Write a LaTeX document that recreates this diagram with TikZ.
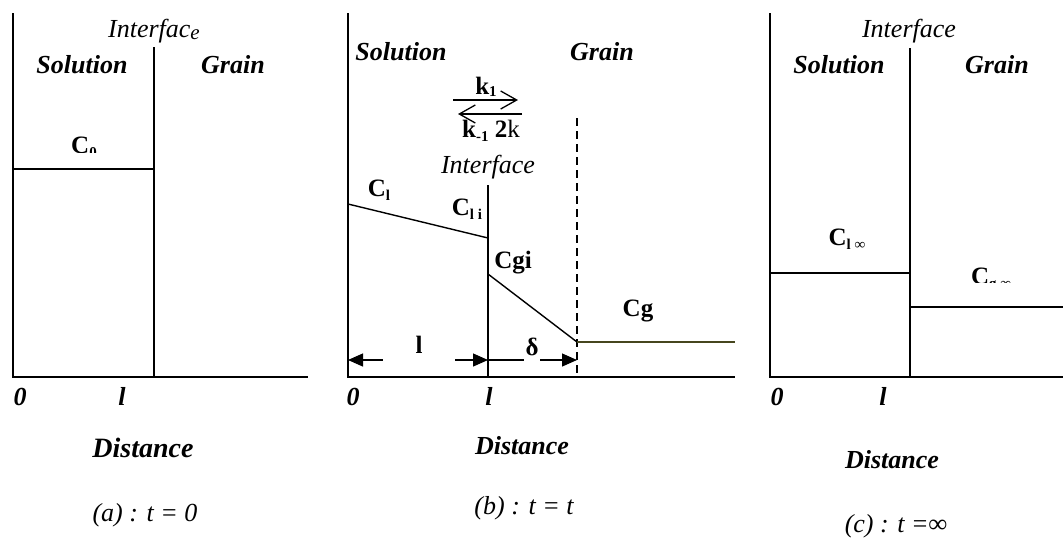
\documentclass[tikz,border=0pt]{standalone}
\usepackage{fontspec}
\setmainfont{Liberation Serif}
\usetikzlibrary{arrows.meta}
\newcommand\lowsub[1]{\raisebox{-4pt}{\fontsize{15}{15}\selectfont #1}}
\definecolor{olivedark}{RGB}{70,70,30}

\begin{document}
\begin{tikzpicture}[x=1pt, y=-1pt, >={Triangle[length=15pt,width=13pt]},
  axis/.style={line width=1.7pt},
  conc/.style={line width=1.4pt},
  bi/.style={font=\fontsize{26}{26}\selectfont\bfseries\itshape, anchor=base, inner sep=0pt},
  it/.style={font=\fontsize{26}{26}\selectfont\itshape, anchor=base, inner sep=0pt},
  bf/.style={font=\fontsize{25}{25}\selectfont\bfseries, anchor=base, inner sep=0pt},
  react/.style={line width=1.3pt, -{Straight Barb[length=16pt,width=18pt,line width=1.3pt]}}]
\useasboundingbox (0,0) rectangle (1063,539);

% axes of the three panels
\foreach \nm/\ox/\ex in {a/13/308, b/348/735, c/770/1063} {
  \coordinate (top\nm) at (\ox,13);
  \coordinate (org\nm) at (\ox,377);
  \coordinate (end\nm) at (\ex,377);
  \draw[axis] (top\nm) -- (org\nm) -- (end\nm);
}

% (a) t = 0
\coordinate (ifa) at (154,47); \coordinate (ifa0) at (154,377);
\coordinate (c0l) at (13,169); \coordinate (c0r) at (154,169);
\draw[axis] (ifa) -- (ifa0);
\draw[conc] (c0l) -- (c0r);
\node[it] (intfa) at (154,37) {Interfac\raisebox{-2pt}{\fontsize{21}{21}\selectfont e}};
\node[bi] (sola) at (82,73) {Solution};
\node[bi] (graina) at (233,73) {Grain};
\begin{scope}
\clip (60,120) rectangle (110,152);
\node[bf] (czero) at (84,153) {C\lowsub{0}};
\end{scope}
\node[bi] (zeroa) at (20,405) {0};
\node[bi] (ella) at (122,405) {l};
\node[bi] (dista) at (143,457) {\fontsize{28}{28}\selectfont Distance};
\node[it] (capa) at (145,521) {(a) : t = 0};

% (b) t = t
\coordinate (ifb) at (488,185); \coordinate (ifb0) at (488,377);
\coordinate (dlt) at (577,118); \coordinate (dlt0) at (577,377);
\coordinate (clb) at (348,204); \coordinate (cli) at (488,238);
\coordinate (cgi) at (488,274); \coordinate (cgd) at (577,342);
\coordinate (cge) at (735,342);
\coordinate (lb) at (348,360); \coordinate (lr) at (488,360); \coordinate (dr) at (577,360);
\draw[conc, line width=1.3pt] (ifb) -- (ifb0);
\draw[line width=1.3pt, dash pattern=on 8pt off 5pt] (dlt) -- (dlt0);
\draw[conc] (clb) -- (cli);
\draw[conc] (cgi) -- (cgd);
\draw[conc, olivedark] (cgd) -- (cge);
\draw[line width=1.3pt, <->] (lb) -- (lr);
\draw[line width=1.3pt, ->] (lr) -- (dr);
\node[bf, fill=white, minimum width=72pt, text depth=9pt, inner sep=2pt] (ell) at (419,353) {l};
\node[bf, fill=white, text depth=9pt, inner sep=2pt] (delta) at (532,355) {δ};
\coordinate (kfa) at (453,100); \coordinate (kfb) at (518,100);
\coordinate (kba) at (522,114); \coordinate (kbb) at (458,114);
\draw[react] (kfa) -- (kfb);
\draw[react] (kba) -- (kbb);
\node[bf] (kone) at (486,94) {k\raisebox{-2pt}{\fontsize{15}{15}\selectfont 1}};
\node[bf] (kmone) at (491,137) {k\lowsub{-1} 2\mdseries k};
\node[it] (intfb) at (488,173) {Interface};
\node[bi] (solb) at (401,60) {Solution};
\node[bi] (grainb) at (602,60) {Grain};
\node[bf] (cl) at (379,196) {C\lowsub{l}};
\node[bf] (cli) at (467,215) {C\lowsub{l i}};
\node[bf] (cgil) at (513,268) {Cgi};
\node[bf] (cg) at (638,316) {Cg};
\node[bi] (zerob) at (353,405) {0};
\node[bi] (ellb) at (489,405) {l};
\node[bi] (distb) at (522,454) {Distance};
\node[it] (capb) at (524,514) {(b) : t = t};

% (c) t = infinity
\coordinate (ifc) at (910,48); \coordinate (ifc0) at (910,377);
\coordinate (cll) at (770,273); \coordinate (clr) at (910,273);
\coordinate (cgl) at (910,307); \coordinate (cgr) at (1063,307);
\draw[axis] (ifc) -- (ifc0);
\draw[conc] (cll) -- (clr);
\draw[conc] (cgl) -- (cgr);
\node[it] (intfc) at (909,37) {Interface};
\node[bi] (solc) at (839,73) {Solution};
\node[bi] (grainc) at (997,73) {Grain};
\node[bf] (clinf) at (847,245) {C\lowsub{l ∞}};
\begin{scope}
\clip (960,255) rectangle (1030,282);
\node[bf] (cginf) at (991,284) {C\lowsub{g ∞}};
\end{scope}
\node[bi] (zeroc) at (777,405) {0};
\node[bi] (ellc) at (883,405) {l};
\node[bi] (distc) at (892,468) {Distance};
\node[it] (capc) at (896,532) {(c) : t =∞};
\end{tikzpicture}
\end{document}
